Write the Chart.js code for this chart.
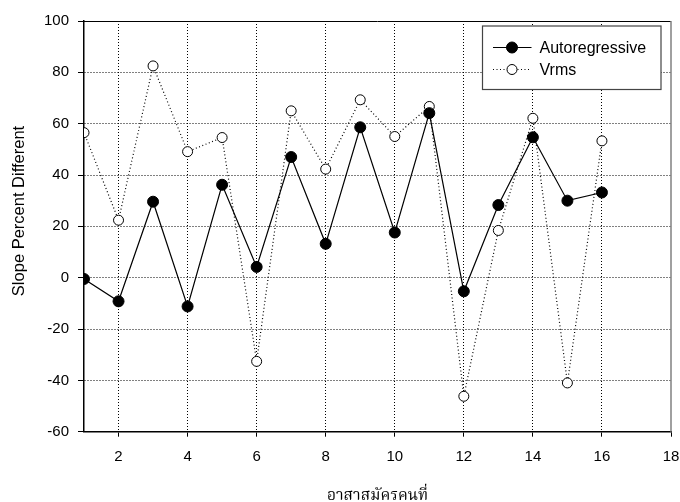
<!DOCTYPE html>
<html>
<head>
<meta charset="utf-8">
<script src="https://cdn.jsdelivr.net/npm/chart.js@4/dist/chart.umd.min.js"></script>
<style>
  html, body { margin: 0; padding: 0; background: #fff; }
  #wrap { width: 680px; height: 502px; position: relative; }
</style>
</head>
<body>
<div id="wrap"><canvas id="chart"></canvas></div>
<script>
// subject number on x, slope percent difference on y
const subjects = [1, 2, 3, 4, 5, 6, 7, 8, 9, 10, 11, 12, 13, 14, 15, 16];
const autoregressive = [-0.5, -9.2, 29.6, -11.2, 36.2, 4.2, 47.0, 13.2, 58.6, 17.6, 64.1, -5.3, 28.3, 54.7, 30.0, 33.2];
const vrms = [56.5, 22.4, 82.5, 49.1, 54.6, -32.6, 65.0, 42.3, 69.3, 55.0, 66.7, -46.2, 18.4, 62.1, -41.0, 53.3];

const xRange = [1, 18];
const xStep = 2;
const yRange = [-60, 100];
const yStep = 20;

const xTitle = "อาสาสมัครคนที่";
const yTitle = "Slope Percent Different";

const toPoints = (ys) => subjects.map((x, i) => ({ x, y: ys[i] }));

const FONT = "'Liberation Sans', Arial, sans-serif";

// frame lines, y title and the boxed legend
const decorations = {
  id: "decorations",
  beforeDatasetsDraw(chart) {
    const { ctx, chartArea: a } = chart;
    ctx.save();
    ctx.lineWidth = 1;
    ctx.strokeStyle = "#000";
    ctx.beginPath();
    ctx.moveTo(a.left, a.top + 0.5);
    ctx.lineTo(a.right, a.top + 0.5);
    ctx.stroke();
    ctx.strokeStyle = "#808080";
    ctx.lineWidth = 1.5;
    ctx.beginPath();
    ctx.moveTo(a.right, a.top);
    ctx.lineTo(a.right, a.bottom);
    ctx.stroke();
    ctx.restore();
  },
  afterDraw(chart) {
    const { ctx, chartArea: a } = chart;
    ctx.save();

    ctx.fillStyle = "#000";
    ctx.font = "16.5px " + FONT;
    ctx.textAlign = "center";
    ctx.textBaseline = "middle";
    ctx.translate(19.5, 211);
    ctx.rotate(-Math.PI / 2);
    ctx.fillText(yTitle, 0, 0);
    ctx.setTransform(1, 0, 0, 1, 0, 0);

    const bx = a.right - 188.5, by = a.top + 5, bw = 178.5, bh = 63.5;
    ctx.fillStyle = "#fff";
    ctx.fillRect(bx, by, bw, bh);
    ctx.strokeStyle = "#444";
    ctx.lineWidth = 1.2;
    ctx.strokeRect(bx, by, bw, bh);

    chart.data.datasets.forEach((ds, i) => {
      const y = by + 21.5 + i * 22;
      ctx.strokeStyle = "#000";
      ctx.lineWidth = ds.borderWidth;
      ctx.setLineDash(ds.borderDash || []);
      ctx.beginPath();
      ctx.moveTo(bx + 10.5, y);
      ctx.lineTo(bx + 49, y);
      ctx.stroke();
      ctx.setLineDash([]);
      ctx.beginPath();
      ctx.arc(bx + 29.5, y, ds.pointRadius, 0, Math.PI * 2);
      ctx.fillStyle = ds.pointBackgroundColor;
      ctx.fill();
      ctx.lineWidth = 1;
      ctx.stroke();
      ctx.fillStyle = "#000";
      ctx.font = "16px " + FONT;
      ctx.textAlign = "left";
      ctx.textBaseline = "middle";
      ctx.fillText(ds.label, bx + 57, y + 1);
    });
    ctx.restore();
  }
};

new Chart(document.getElementById("chart"), {
  type: "line",
  data: {
    datasets: [
      {
        label: "Autoregressive",
        data: toPoints(autoregressive),
        borderColor: "#000",
        borderWidth: 1.2,
        pointRadius: 5.5,
        pointBackgroundColor: "#000",
        pointBorderColor: "#000",
        pointBorderWidth: 1,
        tension: 0
      },
      {
        label: "Vrms",
        data: toPoints(vrms),
        borderColor: "#000",
        borderWidth: 1.2,
        borderDash: [1, 2.5],
        pointRadius: 5,
        pointBackgroundColor: "#fff",
        pointBorderColor: "#000",
        pointBorderWidth: 1,
        tension: 0
      }
    ]
  },
  options: {
    responsive: true,
    maintainAspectRatio: false,
    animation: false,
    layout: { padding: { top: 21, right: 9, left: 0, bottom: 0 } },
    plugins: { legend: { display: false }, tooltip: { enabled: false } },
    scales: {
      x: {
        type: "linear",
        min: xRange[0],
        max: xRange[1],
        afterFit: (s) => { s.height = 70.3; s.paddingLeft = 0; s.paddingRight = 0; },
        ticks: {
          stepSize: xStep,
          color: "#000",
          padding: 11,
          maxRotation: 0,
          font: { family: FONT, size: 15 },
          callback: (v) => (v === xRange[0] ? "" : v)
        },
        grid: {
          color: (c) => (c.tick && (c.tick.value === xRange[0] || c.tick.value === xRange[1]) ? "rgba(0,0,0,0)" : "#000"),
          lineWidth: 1,
          tickLength: 5,
          tickColor: (c) => (c.tick && c.tick.value === xRange[0] ? "rgba(0,0,0,0)" : "#000")
        },
        border: { display: true, color: "#000", width: 1.5, dash: [1, 2] },
        title: {
          display: true,
          text: xTitle,
          color: "#000",
          font: { family: "'Noto Serif Thai', 'Liberation Serif', serif", size: 15.5 },
          padding: { top: 0, bottom: -5 }
        }
      },
      y: {
        min: yRange[0],
        max: yRange[1],
        afterFit: (s) => { s.width = 84; },
        ticks: {
          stepSize: yStep,
          color: "#000",
          padding: 9,
          font: { family: FONT, size: 15 }
        },
        grid: {
          color: (c) => (c.tick && (c.tick.value === yRange[0] || c.tick.value === yRange[1]) ? "rgba(0,0,0,0)" : "#000"),
          lineWidth: 1,
          tickLength: 6,
          tickColor: "#000"
        },
        border: { display: true, color: "#000", width: 1.5, dash: [1, 2] }
      }
    }
  },
  plugins: [decorations]
});
</script>
</body>
</html>
